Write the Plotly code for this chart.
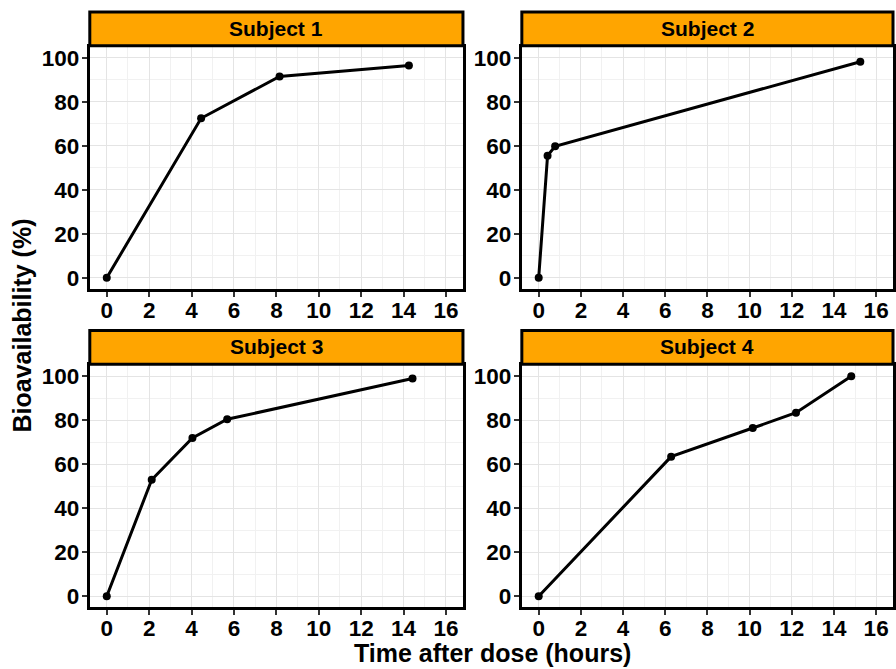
import plotly.graph_objects as go

subjects = ["Subject 1", "Subject 2", "Subject 3", "Subject 4"]
time_s1 = [0, 4.45, 8.15, 14.25]
bio_s1 = [0, 72.5, 91.5, 96.5]
time_s2 = [0, 0.42, 0.78, 15.25]
bio_s2 = [0, 55.5, 59.8, 98.2]
time_s3 = [0, 2.12, 4.04, 5.68, 14.42]
bio_s3 = [0, 53, 72, 80.5, 99]
time_s4 = [0, 6.28, 10.15, 12.2, 14.82]
bio_s4 = [0, 63.5, 76.5, 83.5, 100]
x_ticks = [0, 2, 4, 6, 8, 10, 12, 14, 16]
y_ticks = [0, 20, 40, 60, 80, 100]

W, H = 896, 669
series = [(time_s1, bio_s1), (time_s2, bio_s2), (time_s3, bio_s3), (time_s4, bio_s4)]

# pixel boxes of panels (left, right, top, bottom)
cols = [(90, 464), (523, 895)]
rows = [(46, 289), (366, 609)]
strip_h = 35

fig = go.Figure()
font_family = "Liberation Sans, Arial, sans-serif"

for i, (xs, ys) in enumerate(series):
    r, c = divmod(i, 2)
    xl, xr = cols[c]
    yt, yb = rows[r]
    ax = "" if i == 0 else str(i + 1)
    fig.add_trace(go.Scatter(
        x=xs, y=ys, mode="lines+markers",
        line=dict(color="black", width=3),
        marker=dict(color="black", size=8),
        xaxis="x" + ax, yaxis="y" + ax, showlegend=False))
    common = dict(
        showline=True, mirror=True, linecolor="black", linewidth=3,
        ticks="outside", ticklen=5, tickwidth=1.5, tickcolor="#333333",
        showgrid=True, gridcolor="#e4e4e4", gridwidth=1,
        zeroline=False,
        tickfont=dict(family=font_family, size=22.5, color="black", weight="bold"),
    )
    fig.layout["xaxis" + ax] = dict(
        common, domain=[xl / W, xr / W], anchor="y" + ax,
        range=[-0.8, 16.8], tickvals=x_ticks, ticklabelstandoff=-6,
        minor=dict(dtick=1, tick0=1, showgrid=True, gridcolor="#f1f1f1", ticks=""),
    )
    fig.layout["yaxis" + ax] = dict(
        common, domain=[1 - yb / H, 1 - yt / H], anchor="x" + ax,
        range=[-5, 105], tickvals=y_ticks, ticklabelstandoff=-2,
        minor=dict(dtick=10, tick0=10, showgrid=True, gridcolor="#f1f1f1", ticks=""),
    )
    # strip
    fig.add_shape(type="rect", xref="paper", yref="paper",
                  x0=xl / W, x1=xr / W,
                  y0=1 - (yt - 1) / H, y1=1 - (yt - strip_h) / H,
                  fillcolor="#FFA500", line=dict(color="black", width=3))
    fig.add_annotation(text="<b>" + subjects[i] + "</b>", xref="paper", yref="paper",
                       x=(xl + xr) / 2 / W, y=1 - (yt - strip_h / 2 - 1) / H,
                       showarrow=False, xanchor="center", yanchor="middle",
                       font=dict(family=font_family, size=21, color="black"))

fig.add_annotation(text="<b>Time after dose (hours)</b>", xref="paper", yref="paper",
                   x=494 / W, y=1 - 655 / H, showarrow=False,
                   xanchor="center", yanchor="middle",
                   font=dict(family=font_family, size=25, color="black"))
fig.add_annotation(text="<b>Bioavailability (%)</b>", xref="paper", yref="paper",
                   x=22 / W, y=1 - 326 / H, showarrow=False, textangle=-90,
                   xanchor="center", yanchor="middle",
                   font=dict(family=font_family, size=25, color="black"))

fig.update_layout(width=W, height=H, margin=dict(l=0, r=0, t=0, b=0),
                  paper_bgcolor="white", plot_bgcolor="white")

fig.write_html("out.html", config={"displayModeBar": False},
               post_script="document.body.style.margin='0';document.body.style.padding='0';"
                           "document.documentElement.style.overflow='hidden';")
